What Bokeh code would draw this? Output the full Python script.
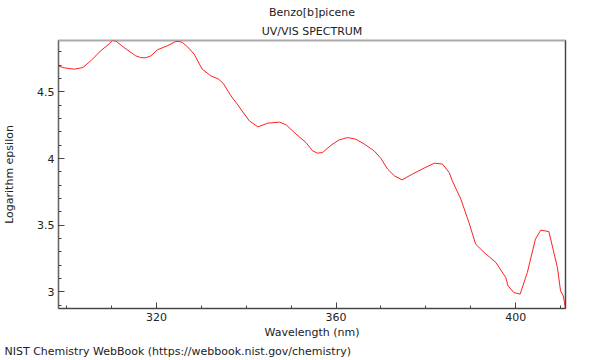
from bokeh.plotting import figure
from bokeh.models import Range1d, FixedTicker, Title, LinearAxis
from bokeh.embed import file_html
from bokeh.resources import INLINE

# ---- data ----
wavelength_nm = [298.0, 299.5, 301.7, 303.6, 305.4, 307.6, 309.5, 310.2, 311.0, 312.8,
                 315.4, 316.5, 317.6, 318.8, 320.2, 322.4, 324.3, 325.0, 325.8, 327.0,
                 328.4, 330.2, 332.1, 333.9, 335.0, 336.5, 338.0, 339.6, 340.7, 342.6,
                 344.8, 347.4, 348.9, 351.1, 353.3, 354.8, 355.9, 357.0, 358.9, 360.7,
                 362.6, 364.4, 366.3, 368.5, 370.0, 371.5, 373.0, 374.7, 377.0, 379.6,
                 381.9, 383.7, 385.2, 385.9, 387.8, 389.6, 391.1, 393.0, 395.6, 397.8,
                 398.3, 399.6, 401.0, 402.6, 404.4, 405.6, 407.4, 409.3, 410.0, 410.6,
                 411.1]
log_epsilon = [4.695, 4.680, 4.670, 4.682, 4.733, 4.808, 4.860, 4.885, 4.880, 4.832,
               4.770, 4.757, 4.755, 4.770, 4.815, 4.845, 4.877, 4.878, 4.870, 4.835,
               4.783, 4.670, 4.620, 4.595, 4.558, 4.475, 4.408, 4.333, 4.282, 4.237,
               4.265, 4.273, 4.252, 4.183, 4.120, 4.057, 4.040, 4.045, 4.100, 4.140,
               4.157, 4.145, 4.108, 4.057, 4.000, 3.920, 3.870, 3.840, 3.883, 3.928,
               3.965, 3.958, 3.895, 3.832, 3.695, 3.520, 3.357, 3.295, 3.220, 3.107,
               3.045, 2.995, 2.983, 3.145, 3.395, 3.463, 3.452, 3.182, 3.007, 2.970,
               2.875]

x_major_ticks = [320, 360, 400]
x_minor_ticks = [300, 310, 320, 330, 340, 350, 360, 370, 380, 390, 400, 410]
y_major_ticks = [3.0, 3.5, 4.0, 4.5]
y_tick_labels = ["3", "3.5", "4", "4.5"]
y_minor_ticks = [2.9, 3.0, 3.1, 3.2, 3.3, 3.4, 3.5, 3.6, 3.7, 3.8, 3.9, 4.0,
                 4.1, 4.2, 4.3, 4.4, 4.5, 4.6, 4.7, 4.8]

compound_text = "Benzo[b]picene"
title_text = "UV/VIS SPECTRUM"
footer_text = "NIST Chemistry WebBook (https://webbook.nist.gov/chemistry)"

FONT = "DejaVu Sans"
TXT = "#222222"

p = figure(width=600, height=360, output_backend="svg", toolbar_location=None,
           x_range=Range1d(298.2, 411.1), y_range=Range1d(2.875, 4.885))
p.min_border_left = 57
p.min_border_right = 35
p.min_border_top = 40
p.min_border_bottom = 52
p.background_fill_color = "white"
p.border_fill_color = "white"
p.xgrid.visible = False
p.ygrid.visible = False
p.outline_line_color = "#aaaaaa"
p.outline_line_width = 2

p.line(wavelength_nm, log_epsilon, line_color="#ff2020", line_width=1)

# titles (p.title is the outer one; the added Title sits next to the plot)
p.title.text = compound_text
p.title.align = "center"
p.title.text_font = FONT
p.title.text_font_size = "11px"
p.title.text_font_style = "normal"
p.title.text_color = TXT
p.title.standoff = 3
p.add_layout(Title(text=title_text, align="center", text_font=FONT,
                   text_font_size="11px", text_font_style="normal",
                   text_color=TXT, standoff=5), "above")
p.add_layout(Title(text=footer_text, align="left", offset=-54, text_font=FONT,
                   text_font_size="11px", text_font_style="normal",
                   text_color=TXT, standoff=2), "below")

# axes
for ax in (p.xaxis[0], p.yaxis[0]):
    ax.axis_line_color = "#444444"
    ax.major_tick_line_color = "#444444"
    ax.minor_tick_line_color = "#444444"
    ax.major_tick_in = 6
    ax.major_tick_out = 0
    ax.minor_tick_in = 3
    ax.minor_tick_out = 0
    ax.major_label_text_font = FONT
    ax.major_label_text_font_size = "11px"
    ax.major_label_text_color = TXT
    ax.axis_label_text_font = FONT
    ax.axis_label_text_font_size = "11px"
    ax.axis_label_text_font_style = "normal"
    ax.axis_label_text_color = TXT
    ax.major_label_standoff = 4

p.xaxis[0].ticker = FixedTicker(ticks=x_major_ticks, minor_ticks=x_minor_ticks)
p.xaxis[0].axis_label = "Wavelength (nm)"
p.xaxis[0].axis_label_standoff = 2
p.yaxis[0].ticker = FixedTicker(ticks=y_major_ticks, minor_ticks=y_minor_ticks)
p.yaxis[0].major_label_overrides = {v: s for v, s in zip(y_major_ticks, y_tick_labels)}
p.yaxis[0].axis_label = "Logarithm epsilon"
p.yaxis[0].axis_label_standoff = 18
p.yaxis[0].axis_line_color = "#666666"

# dark right border
right_ax = LinearAxis(ticker=FixedTicker(ticks=[]), axis_line_color="#444444",
                      major_label_text_font_size="0px")
p.add_layout(right_ax, "right")

open("out.html", "w").write(file_html(p, INLINE))
